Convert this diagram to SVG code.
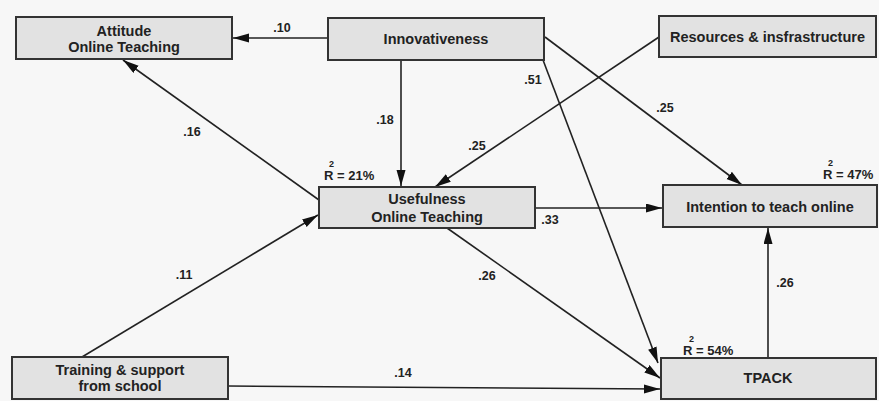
<svg xmlns="http://www.w3.org/2000/svg" width="879" height="401" viewBox="0 0 879 401">
<style>
.box{fill:#e2e2e2;stroke:#333;stroke-width:2}
.nt{font-family:"Liberation Sans",Arial,sans-serif;font-weight:bold;font-size:14.5px;fill:#222;text-anchor:middle}
.el{font-family:"Liberation Sans",Arial,sans-serif;font-weight:bold;font-size:12.5px;fill:#222;text-anchor:middle}
.rt{font-family:"Liberation Sans",Arial,sans-serif;font-weight:bold;font-size:13px;fill:#222}
.sup{font-family:"Liberation Sans",Arial,sans-serif;font-weight:bold;font-size:9px;fill:#222}
.c{stroke:#222;stroke-width:1.6;fill:none;marker-end:url(#ah)}
</style>
<defs>
<marker id="ah" markerUnits="userSpaceOnUse" markerWidth="17" markerHeight="10" refX="16" refY="4.5" orient="auto">
<path d="M0,0 L16,4.5 L0,9 z" fill="#111"/>
</marker>
</defs>
<rect x="0" y="0" width="879" height="401" fill="#f7f7f7"/>
<g id="connectors">
<line class="c" x1="328" y1="38" x2="233" y2="38"/>
<line class="c" x1="401" y1="60" x2="401" y2="186"/>
<line class="c" x1="545" y1="37" x2="742" y2="185"/>
<line class="c" x1="543" y1="60" x2="658" y2="363"/>
<line class="c" x1="659" y1="37" x2="435" y2="187"/>
<line class="c" x1="319" y1="200" x2="123" y2="60"/>
<line class="c" x1="82" y1="357" x2="318" y2="215"/>
<line class="c" x1="535" y1="208" x2="662" y2="208"/>
<line class="c" x1="447" y1="228" x2="660" y2="378"/>
<line class="c" x1="228" y1="386" x2="660" y2="389"/>
<line class="c" x1="768" y1="358" x2="768" y2="228"/>
<text class="el" x="282" y="32">.10</text>
<text class="el" x="385" y="124">.18</text>
<text class="el" x="665" y="112">.25</text>
<text class="el" x="533" y="84">.51</text>
<text class="el" x="477" y="150">.25</text>
<text class="el" x="192" y="136">.16</text>
<text class="el" x="184" y="279">.11</text>
<text class="el" x="550" y="224">.33</text>
<text class="el" x="487" y="280">.26</text>
<text class="el" x="403" y="377">.14</text>
<text class="el" x="785" y="287">.26</text>
</g>
<g id="attitude">
<rect class="box" x="16" y="17" width="216" height="42"/>
<text class="nt" x="124" y="36">Attitude</text>
<text class="nt" x="124" y="52">Online Teaching</text>
</g>
<g id="innovativeness">
<rect class="box" x="328" y="18" width="216" height="42"/>
<text class="nt" x="436" y="44">Innovativeness</text>
</g>
<g id="resources">
<rect class="box" x="659" y="16" width="217" height="41"/>
<text class="nt" x="767.5" y="42">Resources &amp; insfrastructure</text>
</g>
<g id="usefulness">
<rect class="box" x="319" y="187" width="216" height="41"/>
<text class="nt" x="427" y="204">Usefulness</text>
<text class="nt" x="427" y="222">Online Teaching</text>
<text class="rt" x="324" y="180">R = 21%</text>
<text class="sup" x="329" y="167">2</text>
</g>
<g id="intention">
<rect class="box" x="663" y="185" width="214" height="42"/>
<text class="nt" x="770" y="212">Intention to teach online</text>
<text class="rt" x="823" y="179">R = 47%</text>
<text class="sup" x="828" y="166">2</text>
</g>
<g id="training">
<rect class="box" x="12" y="357" width="216" height="42"/>
<text class="nt" x="120" y="375">Training &amp; support</text>
<text class="nt" x="120" y="391">from school</text>
</g>
<g id="tpack">
<rect class="box" x="661" y="358" width="215" height="41"/>
<text class="nt" x="768" y="383">TPACK</text>
<text class="rt" x="683" y="355">R = 54%</text>
<text class="sup" x="689" y="342">2</text>
</g>
</svg>
